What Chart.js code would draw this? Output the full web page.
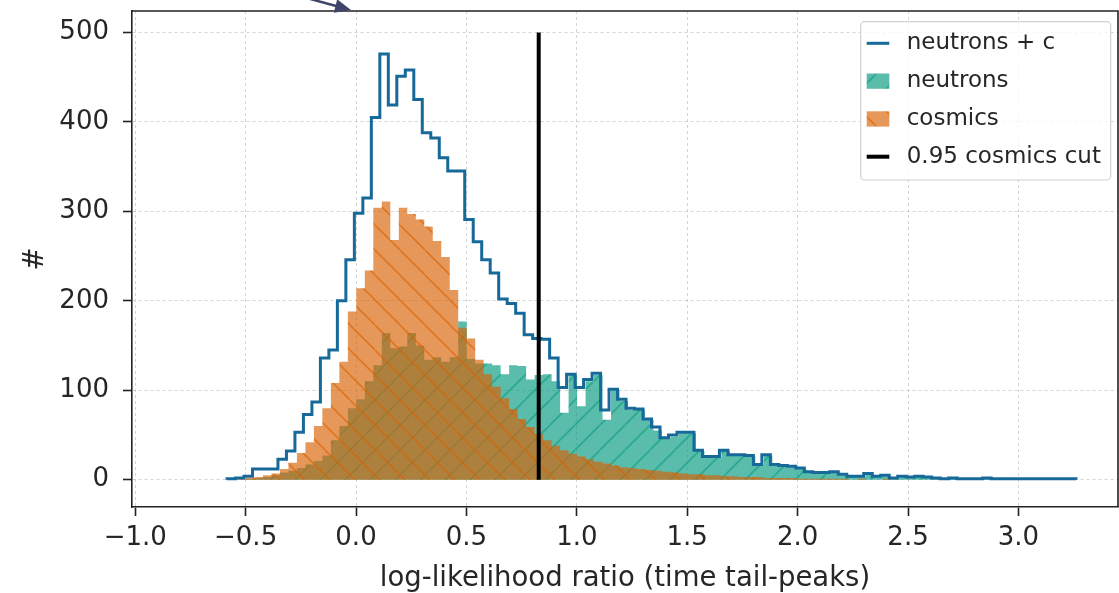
<!DOCTYPE html>
<html>
<head>
<meta charset="utf-8">
<title>log-likelihood ratio</title>
<script src="https://cdn.jsdelivr.net/npm/chart.js"></script>
<style>
  body { margin: 0; background: #fff; }
  #wrap { width: 1119px; height: 593px; }
</style>
</head>
<body>
<div id="wrap"><canvas id="chart" width="1119" height="593"></canvas></div>
<script>
// 100 bins per histogram, left edge + width (x units)
var stepStart = -0.5842;
var fillStart = -0.5752;
var binWidth = 0.03845;

var neutronsPlusC = [
  1, 2, 4, 12, 12, 12, 23, 32, 53, 73,
  87, 136, 145, 200, 246, 298, 315, 405, 476, 419,
  451, 458, 425, 388, 382, 360, 345, 345, 291, 266,
  246, 231, 202, 197, 186, 162, 158, 157, 136, 103,
  118, 103, 112, 119, 78, 101, 90, 80, 79, 68,
  59, 47, 50, 53, 53, 33, 26, 26, 33, 28,
  28, 27, 17, 28, 17, 16, 15, 13, 9, 8,
  8, 9, 6, 4, 4, 7, 4, 5, 2, 4,
  3, 4, 3, 2, 1, 2, 1, 1, 1, 2,
  1, 1, 1, 1, 1, 1, 1, 1, 1, 1
];

var neutrons = [
  0, 0, 1, 2, 3, 5, 8, 10, 13, 17,
  21, 27, 44, 60, 80, 90, 110, 128, 164, 147,
  149, 164, 150, 134, 137, 132, 137, 177, 135, 130,
  130, 128, 118, 128, 127, 112, 117, 118, 110, 75,
  117, 82, 110, 117, 67, 100, 88, 78, 78, 67,
  55, 46, 48, 52, 52, 32, 25, 25, 32, 27,
  27, 26, 16, 27, 16, 15, 14, 12, 8, 7,
  7, 8, 5, 3, 3, 6, 3, 4, 1, 3,
  2, 3, 2, 1, 1, 1, 1, 0, 1, 1,
  0, 1, 0, 0, 1, 0, 0, 1, 0, 0
];

var cosmics = [
  0, 1, 2, 3, 5, 7, 12, 19, 30, 42,
  60, 80, 108, 132, 188, 214, 234, 304, 311, 268,
  304, 297, 291, 283, 267, 249, 212, 170, 158, 134,
  118, 104, 91, 79, 68, 59, 51, 44, 38, 33,
  29, 26, 23, 20, 18, 16, 14, 13, 12, 11,
  10, 9, 8, 7, 6, 6, 5, 5, 4, 4,
  3, 3, 3, 2, 2, 2, 2, 1, 1, 1,
  1, 1, 1, 0, 1, 0, 0, 1, 0, 0,
  0, 0, 0, 0, 0, 0, 0, 0, 0, 0,
  0, 0, 0, 0, 0, 0, 0, 0, 0, 0
];

var cutX = 0.8275;
var cutTop = 500;

var xTickValues = [-1.0, -0.5, 0.0, 0.5, 1.0, 1.5, 2.0, 2.5, 3.0];
var xTickLabels = ["\u22121.0", "\u22120.5", "0.0", "0.5", "1.0", "1.5", "2.0", "2.5", "3.0"];
var yTickValues = [0, 100, 200, 300, 400, 500];
var yTickLabels = ["0", "100", "200", "300", "400", "500"];

var FONT = "DejaVu Sans";
var INK = "#262626";

function stepPoints(start, values) {
  var pts = [{x: start, y: 0}];
  for (var i = 0; i < values.length; i++) {
    pts.push({x: start + i * binWidth, y: values[i]});
  }
  pts.push({x: start + values.length * binWidth, y: 0});
  return pts;
}

function hatch(rgb, alpha, dir) {
  var p = 25;
  var c = document.createElement("canvas");
  c.width = p; c.height = p;
  var g = c.getContext("2d");
  g.fillStyle = "rgba(" + rgb + "," + alpha + ")";
  g.fillRect(0, 0, p, p);
  g.strokeStyle = "rgba(" + rgb + "," + alpha + ")";
  g.lineWidth = 1.6;
  g.beginPath();
  for (var d = -p; d <= p; d += p) {
    if (dir == "/") { g.moveTo(d, p); g.lineTo(d + p, 0); }
    else { g.moveTo(d, 0); g.lineTo(d + p, p); }
  }
  g.stroke();
  return g.createPattern(c, "repeat");
}

var tealFill = hatch("20,160,135", 0.7, "/");
var orangeFill = hatch("217,98,4", 0.66, "\\");
var stepColor = "#17699a";

var legendItems = [
  {label: "neutrons + c", line: stepColor, width: 3},
  {label: "neutrons", patch: tealFill},
  {label: "cosmics", patch: orangeFill},
  {label: "0.95 cosmics cut", line: "#000", width: 4}
];

function box(ctx, x, y, w, h, r) {
  ctx.beginPath();
  ctx.moveTo(x + r, y);
  ctx.arcTo(x + w, y, x + w, y + h, r);
  ctx.arcTo(x + w, y + h, x, y + h, r);
  ctx.arcTo(x, y + h, x, y, r);
  ctx.arcTo(x, y, x + w, y, r);
  ctx.closePath();
}

var extras = {
  id: "extras",
  afterDraw: function(chart) {
    var ctx = chart.ctx, a = chart.chartArea;
    ctx.save();

    // top and right spines
    ctx.strokeStyle = "#222";
    ctx.lineWidth = 1.6;
    ctx.beginPath();
    ctx.moveTo(a.left, a.top);
    ctx.lineTo(a.right, a.top);
    ctx.lineTo(a.right, a.bottom);
    ctx.stroke();

    // legend, upper right
    var bx = a.right - 257.3, by = a.top + 10.7, bw = 250, bh = 158.3;
    box(ctx, bx, by, bw, bh, 4);
    ctx.fillStyle = "rgba(255,255,255,0.8)";
    ctx.fill();
    ctx.strokeStyle = "#d2d2d2";
    ctx.lineWidth = 1.2;
    ctx.stroke();

    ctx.font = "23px '" + FONT + "'";
    ctx.textBaseline = "middle";
    ctx.textAlign = "left";
    for (var i = 0; i < legendItems.length; i++) {
      var it = legendItems[i];
      var cy = by + 21.6 + i * 37.8;
      var sx = bx + 6;
      if (it.line) {
        ctx.strokeStyle = it.line;
        ctx.lineWidth = it.width;
        ctx.beginPath();
        ctx.moveTo(sx, cy);
        ctx.lineTo(sx + 22.6, cy);
        ctx.stroke();
      } else {
        ctx.fillStyle = "#fff";
        ctx.fillRect(sx, cy - 7.6, 22.6, 15.3);
        ctx.fillStyle = it.patch;
        ctx.fillRect(sx, cy - 7.6, 22.6, 15.3);
      }
      ctx.fillStyle = INK;
      ctx.fillText(it.label, bx + 46, cy);
    }

    // arrow pointing at the top spine
    ctx.strokeStyle = "#40456a";
    ctx.fillStyle = "#40456a";
    ctx.lineWidth = 2.5;
    ctx.beginPath();
    ctx.moveTo(303, -3);
    ctx.lineTo(338, 6.5);
    ctx.stroke();
    ctx.beginPath();
    ctx.moveTo(351, 10);
    ctx.lineTo(333.8, 12.8);
    ctx.lineTo(337.2, -0.7);
    ctx.closePath();
    ctx.fill();

    ctx.restore();
  }
};

new Chart(document.getElementById("chart"), {
  type: "line",
  data: {
    datasets: [
      {
        label: "0.95 cosmics cut",
        data: [{x: cutX, y: 0}, {x: cutX, y: cutTop}],
        borderColor: "#000",
        borderWidth: 4,
        fill: false
      },
      {
        label: "neutrons + c",
        data: stepPoints(stepStart, neutronsPlusC),
        borderColor: stepColor,
        borderWidth: 3,
        borderJoinStyle: "miter",
        stepped: true,
        fill: false
      },
      {
        label: "cosmics",
        data: stepPoints(fillStart, cosmics),
        borderColor: "rgba(0,0,0,0)",
        borderWidth: 0,
        backgroundColor: orangeFill,
        stepped: true,
        fill: "origin"
      },
      {
        label: "neutrons",
        data: stepPoints(fillStart, neutrons),
        borderColor: "rgba(0,0,0,0)",
        borderWidth: 0,
        backgroundColor: tealFill,
        stepped: true,
        fill: "origin"
      }
    ]
  },
  options: {
    responsive: false,
    animation: false,
    events: [],
    layout: { padding: { left: 0, top: 11, right: 1, bottom: 0 } },
    elements: { point: { radius: 0 }, line: { tension: 0 } },
    plugins: { legend: { display: false }, tooltip: { enabled: false } },
    scales: {
      x: {
        type: "linear",
        min: -1.0145,
        max: 3.451,
        afterBuildTicks: function(s) { s.ticks = xTickValues.map(function(v) { return {value: v}; }); },
        afterFit: function(s) { s.height = 86; s.paddingLeft = 0; s.paddingRight = 0; },
        grid: { color: "rgba(170,170,170,0.5)", lineWidth: 1, tickColor: "#222", tickLength: 9, tickWidth: 1.6 },
        border: { color: "#222", width: 1.6, dash: [3, 3] },
        ticks: {
          padding: 7, color: INK, autoSkip: false, maxRotation: 0,
          font: { family: FONT, size: 26 },
          callback: function(v, i) { return xTickLabels[i]; }
        },
        title: {
          display: true, text: "log-likelihood ratio (time tail-peaks)", color: INK,
          font: { family: FONT, size: 27.5, lineHeight: 1 }, padding: { top: 0, bottom: 0 }
        }
      },
      y: {
        min: -30.5,
        max: 524,
        afterBuildTicks: function(s) { s.ticks = yTickValues.map(function(v) { return {value: v}; }); },
        afterFit: function(s) { s.width = 132; s.paddingTop = 0; s.paddingBottom = 0; },
        grid: { color: "rgba(170,170,170,0.5)", lineWidth: 1, tickColor: "#222", tickLength: 9, tickWidth: 1.6 },
        border: { color: "#222", width: 1.6, dash: [3, 3] },
        ticks: {
          padding: 14, color: INK, autoSkip: false,
          font: { family: FONT, size: 26 },
          callback: function(v, i) { return yTickLabels[i]; }
        },
        title: {
          display: true, text: "#", color: INK,
          font: { family: FONT, size: 27.5, lineHeight: 1 }, padding: { top: 22, bottom: 0 }
        }
      }
    }
  },
  plugins: [extras]
});
</script>
</body>
</html>
